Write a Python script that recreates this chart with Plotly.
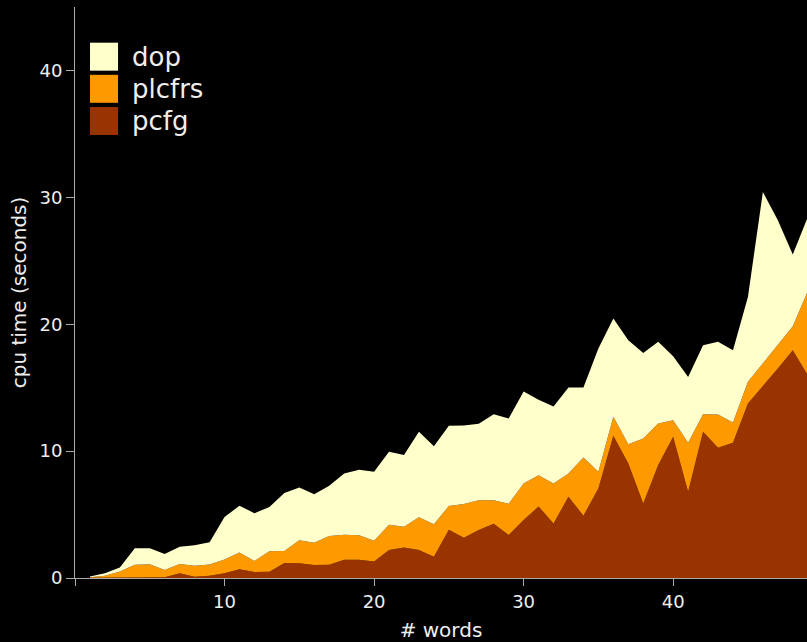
import plotly.graph_objects as go

# sentence length (# words)
words = list(range(1, 50))

# cpu time per parser component (seconds), stacked bottom-up: pcfg, plcfrs, dop
pcfg = [0.01, 0.02, 0.03, 0.03, 0.05, 0.06, 0.37, 0.10, 0.18, 0.37,
        0.68, 0.48, 0.50, 1.18, 1.16, 1.03, 1.05, 1.44, 1.44, 1.31,
        2.20, 2.41, 2.20, 1.68, 3.81, 3.17, 3.78, 4.28, 3.39, 4.57,
        5.63, 4.30, 6.40, 4.91, 7.06, 11.21, 9.03, 5.88, 8.90, 11.13,
        6.80, 11.52, 10.26, 10.66, 13.75, 15.12, 16.51, 17.95, 15.98]
plcfrs = [0.04, 0.15, 0.49, 1.01, 1.03, 0.57, 0.73, 0.86, 0.88, 1.08,
          1.32, 0.86, 1.60, 0.95, 1.82, 1.75, 2.26, 1.97, 1.92, 1.63,
          2.00, 1.63, 2.58, 2.55, 1.86, 2.66, 2.34, 1.84, 2.46, 2.88,
          2.47, 3.15, 1.84, 4.59, 1.31, 1.49, 1.52, 5.12, 3.28, 1.31,
          3.86, 1.39, 2.63, 1.60, 1.71, 1.78, 1.84, 1.89, 6.62]
dop = [0.07, 0.21, 0.30, 1.31, 1.27, 1.27, 1.36, 1.62, 1.76, 3.35,
       3.70, 3.76, 3.50, 4.57, 4.16, 3.82, 3.96, 4.83, 5.17, 5.43,
       5.75, 5.65, 6.74, 6.16, 6.32, 6.19, 6.03, 6.79, 6.72, 7.25,
       5.95, 6.07, 6.78, 5.52, 9.71, 7.75, 8.19, 6.74, 6.43, 5.04,
       5.19, 5.44, 5.72, 5.69, 6.69, 13.52, 9.84, 5.65, 5.85]

series_names = ["pcfg", "plcfrs", "dop"]
series_values = [pcfg, plcfrs, dop]
series_colors = ["#993300", "#ff9900", "#ffffcc"]

x_ticks = [0, 10, 20, 30, 40]
x_ticktext = ["", "10", "20", "30", "40"]
y_ticks = [0, 10, 20, 30, 40]

FONT = "DejaVu Sans"
AXIS_COLOR = "#aaaaaa"
TEXT_COLOR = "#eeeeee"

fig = go.Figure()
for name, vals, color in zip(series_names, series_values, series_colors):
    fig.add_trace(go.Scatter(
        x=words, y=vals, name=name, mode="lines",
        stackgroup="cpu", line=dict(width=0, color=color),
        fillcolor=color, showlegend=False, hoverinfo="skip",
    ))

# legend: large square swatches, top entry = top of the stack
legend_items = list(zip(series_names, series_colors))[::-1]
for i, (name, color) in enumerate(legend_items):
    y_top = 0.9375 - i * 0.0563
    fig.add_shape(type="rect", xref="paper", yref="paper",
                  x0=0.0205, x1=0.0588, y0=y_top - 0.049, y1=y_top,
                  fillcolor=color, line=dict(width=0))
    fig.add_annotation(text=name, xref="paper", yref="paper",
                       x=0.0745, y=y_top - 0.0245, xanchor="left", yanchor="middle",
                       showarrow=False,
                       font=dict(family=FONT, size=26, color=TEXT_COLOR))

fig.update_layout(
    width=807, height=642,
    margin=dict(l=75, r=0, t=7, b=64),
    paper_bgcolor="black", plot_bgcolor="black",
    font=dict(family=FONT, color=TEXT_COLOR, size=18),
    xaxis=dict(
        range=[0, 48.95], tickvals=x_ticks, ticktext=x_ticktext,
        showgrid=False, zeroline=False, showline=True,
        linecolor=AXIS_COLOR, linewidth=1,
        ticks="outside", ticklen=7, tickcolor=AXIS_COLOR, tickwidth=1,
        tickfont=dict(family=FONT, size=18, color=TEXT_COLOR),
        title=dict(text="# words", standoff=14,
                   font=dict(family=FONT, size=20, color=TEXT_COLOR)),
    ),
    yaxis=dict(
        range=[0, 45], tickvals=y_ticks,
        showgrid=False, zeroline=False, showline=True,
        linecolor=AXIS_COLOR, linewidth=1,
        ticks="outside", ticklen=8, tickcolor=AXIS_COLOR, tickwidth=1,
        tickfont=dict(family=FONT, size=18, color=TEXT_COLOR),
        title=dict(text="cpu time (seconds)", standoff=7,
                   font=dict(family=FONT, size=20, color=TEXT_COLOR)),
    ),
)

fig.write_html("out.html", config={"displayModeBar": False})
